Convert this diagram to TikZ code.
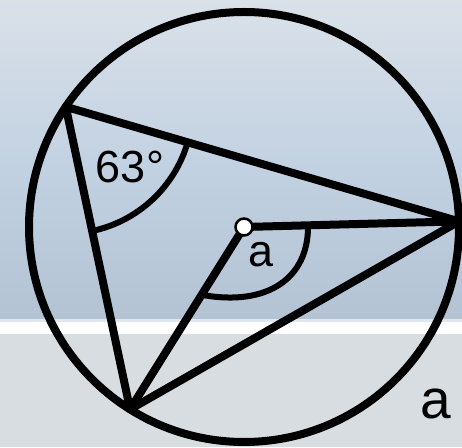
\documentclass[tikz,border=0pt]{standalone}
\usepackage{fontspec}
\setmainfont{Liberation Sans}
\usetikzlibrary{calc}
\definecolor{bgtop}{HTML}{DAE1E9}
\definecolor{bgmid}{HTML}{C3D2E2}
\definecolor{bgbot}{HTML}{B3C3D4}
\definecolor{bglow}{HTML}{D7DDE0}
\tikzset{
  thick line/.style={line width=8pt, line cap=round, line join=round},
  angle mark/.style={line width=6pt},
  lbl/.style={inner sep=0pt, font=\fontsize{45}{50}\selectfont},
  biglbl/.style={inner sep=0pt, font=\fontsize{55}{60}\selectfont},
}
\begin{document}
\begin{tikzpicture}[x=1pt,y=1pt]
\useasboundingbox (0,0) rectangle (462,447);
% background
\shade[top color=bgtop, bottom color=bgbot, middle color=bgmid] (0,127) rectangle (462,447);
\fill[white] (0,113) rectangle (462,127);
\fill[white!60!bgbot] (0,125) rectangle (462,128);
\fill[bglow] (0,0) rectangle (462,113);
% geometry
\coordinate (O) at (244,220);
\coordinate (A) at ($(O)+(146:215)$);
\coordinate (B) at ($(O)+(238:215)$);
\coordinate (C) at ($(O)+(1.5:215)$);
\draw[line width=8pt] (O) circle[radius=215];
% angle marks
\draw[angle mark] ($(A)+(-16.25:127)$) arc[start angle=-16.25, end angle=-78, radius=127];
\draw[angle mark] ($(O)+(64,0)$) .. controls ($(O)+(64,-50)$) and ($(O)+(25,-80)$) .. ($(O)+(238:80)$);
% chords
\draw[thick line] (A) -- (C) -- (B) -- cycle;
\draw[thick line] (C) -- (O) -- (B);
\node[circle, draw=black, fill=white, line width=2.5pt, minimum size=17pt, inner sep=0pt] (Odot) at (O) {};
% labels
\node[lbl] (l63) at (130,280) {63°};
\node[lbl] (la) at (261,192) {a};
\node[biglbl] (la2) at (436,43) {a};
\end{tikzpicture}
\end{document}
